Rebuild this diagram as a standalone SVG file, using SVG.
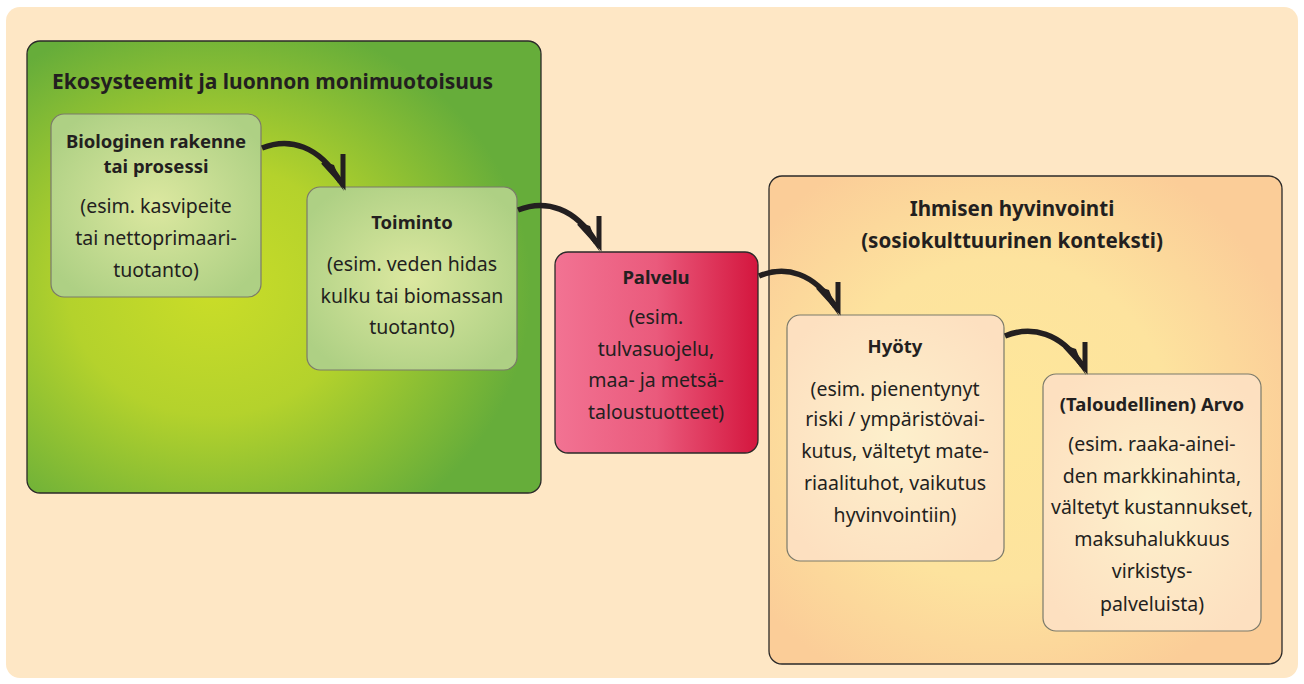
<svg xmlns="http://www.w3.org/2000/svg" width="1304" height="684" viewBox="0 0 1304 684">
<defs>
<radialGradient id="gGreen" cx="0.36" cy="0.55" r="0.62">
<stop offset="0" stop-color="#cadd28"/>
<stop offset="0.45" stop-color="#b4d22c"/>
<stop offset="1" stop-color="#66ad3a"/>
</radialGradient>
<radialGradient id="gLightGreen" cx="0.5" cy="0.5" r="0.6">
<stop offset="0" stop-color="#dce8a0"/>
<stop offset="1" stop-color="#aed084"/>
</radialGradient>
<linearGradient id="gRed" x1="0" y1="0" x2="1" y2="0">
<stop offset="0" stop-color="#f27393"/>
<stop offset="0.5" stop-color="#ea5a7c"/>
<stop offset="1" stop-color="#d4163e"/>
</linearGradient>
<radialGradient id="gOrange" cx="0.45" cy="0.5" r="0.6">
<stop offset="0" stop-color="#fee79a"/>
<stop offset="0.55" stop-color="#fde39e"/>
<stop offset="1" stop-color="#fbcd98"/>
</radialGradient>
<radialGradient id="gPeach" cx="0.5" cy="0.5" r="0.6">
<stop offset="0" stop-color="#fdf0cc"/>
<stop offset="1" stop-color="#fde0c0"/>
</radialGradient>
</defs>
<style>
.t{font-family:"Noto Sans","Liberation Sans",sans-serif;font-size:19.5px;fill:#231f20;text-anchor:middle}
.b{font-weight:bold;font-size:18.5px}
.h{font-family:"Noto Sans","Liberation Sans",sans-serif;font-size:20.6px;font-weight:bold;fill:#231f20}
.big{stroke:#2b2a29;stroke-width:1.3}
.inner{stroke:#7b7a6a;stroke-width:1.2}
.arr{fill:none;stroke:#231f20;stroke-width:5.5}
.head{fill:none;stroke:#231f20;stroke-width:5;stroke-linejoin:miter;stroke-miterlimit:10}
.wedge{fill:#231f20}
</style>
<rect x="0" y="0" width="1304" height="684" fill="#ffffff"/>
<rect x="6" y="7" width="1292" height="671" rx="14" fill="#fee7c5"/>

<g id="ecosystems">
<rect class="big" x="27" y="41" width="514" height="452" rx="13" fill="url(#gGreen)"/>
<text class="h" x="52" y="89" style="font-size:21px">Ekosysteemit ja luonnon monimuotoisuus</text>
</g>

<g id="biologinen">
<rect class="inner" x="51" y="114" width="210" height="183" rx="13" fill="url(#gLightGreen)"/>
<text class="t b" x="156" y="148">Biologinen rakenne</text>
<text class="t b" x="156" y="173">tai prosessi</text>
<text class="t" x="156" y="213">(esim. kasvipeite</text>
<text class="t" x="156" y="245">tai nettoprimaari-</text>
<text class="t" x="156" y="277">tuotanto)</text>
</g>

<g id="toiminto">
<rect class="inner" x="307" y="187" width="210" height="183" rx="13" fill="url(#gLightGreen)"/>
<text class="t b" x="412" y="229">Toiminto</text>
<text class="t" x="412" y="271">(esim. veden hidas</text>
<text class="t" x="412" y="303">kulku tai biomassan</text>
<text class="t" x="412" y="334">tuotanto)</text>
</g>

<g id="palvelu">
<rect class="big" x="555" y="252" width="203" height="201" rx="13" fill="url(#gRed)"/>
<text class="t b" x="656" y="284">Palvelu</text>
<text class="t" x="656" y="324">(esim.</text>
<text class="t" x="656" y="356">tulvasuojelu,</text>
<text class="t" x="656" y="387">maa- ja metsä-</text>
<text class="t" x="656" y="419">taloustuotteet)</text>
</g>

<g id="hyvinvointi">
<rect class="big" x="769" y="176" width="513" height="488" rx="13" fill="url(#gOrange)"/>
<text class="h" x="1012" y="216" text-anchor="middle">Ihmisen hyvinvointi</text>
<text class="h" x="1012" y="248" text-anchor="middle">(sosiokulttuurinen konteksti)</text>
</g>

<g id="hyoty">
<rect class="inner" x="787" y="315" width="217" height="246" rx="13" fill="url(#gPeach)"/>
<text class="t b" x="895" y="353">Hyöty</text>
<text class="t" x="895" y="396">(esim. pienentynyt</text>
<text class="t" x="895" y="426">riski / ympäristövai-</text>
<text class="t" x="895" y="458">kutus, vältetyt mate-</text>
<text class="t" x="895" y="490">riaalituhot, vaikutus</text>
<text class="t" x="895" y="522">hyvinvointiin)</text>
</g>

<g id="arvo">
<rect class="inner" x="1043" y="374" width="218" height="257" rx="13" fill="url(#gPeach)"/>
<text class="t b" x="1152" y="411">(Taloudellinen) Arvo</text>
<text class="t" x="1152" y="451">(esim. raaka-ainei-</text>
<text class="t" x="1152" y="483">den markkinahinta,</text>
<text class="t" x="1152" y="514">vältetyt kustannukset,</text>
<text class="t" x="1152" y="546">maksuhalukkuus</text>
<text class="t" x="1152" y="578">virkistys-</text>
<text class="t" x="1152" y="611">palveluista)</text>
</g>

<g id="connectors">
<g transform="translate(345,190)">
<path class="arr" d="M-83,-42 C-55,-53 -26,-44 -5,-9"/>
<path class="head" d="M-22,-28 L-2,-6 L-2,-36"/>
<polygon class="wedge" points="-23,-29 -11,-25 -1,1"/>
</g>
<g transform="translate(601,251)">
<path class="arr" d="M-83,-41 C-55,-52 -26,-43 -5,-9"/>
<path class="head" d="M-22,-28 L-2,-6 L-2,-35"/>
<polygon class="wedge" points="-23,-29 -11,-25 -1,1"/>
</g>
<g transform="translate(840,315)">
<path class="arr" d="M-81,-39 C-54,-50 -26,-42 -5,-9"/>
<path class="head" d="M-22,-28 L-2,-6 L-2,-33"/>
<polygon class="wedge" points="-23,-29 -11,-25 -1,1"/>
</g>
<g transform="translate(1087,374)">
<path class="arr" d="M-82,-38 C-55,-49 -26,-41 -5,-9"/>
<path class="head" d="M-22,-28 L-2,-6 L-2,-32"/>
<polygon class="wedge" points="-23,-29 -11,-25 -1,1"/>
</g>
</g>
</svg>
